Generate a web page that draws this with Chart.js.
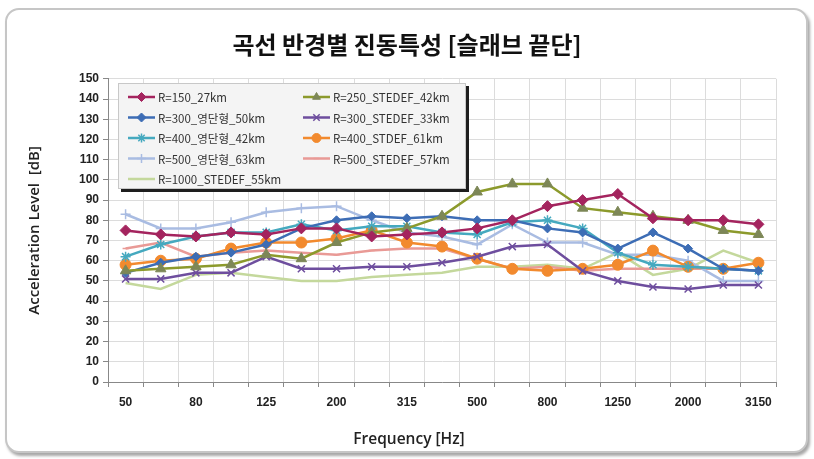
<!DOCTYPE html>
<html>
<head>
<meta charset="utf-8">
<script src="https://cdn.jsdelivr.net/npm/chart.js@4/dist/chart.umd.min.js"></script>
<style>
html, body { margin: 0; padding: 0; background: #fff; }
#wrap { position: relative; width: 814px; height: 459px; }
#card { position: absolute; left: 5px; top: 8px; width: 799px; height: 441px; border: 2px solid #c6c6c6; border-radius: 14px; box-shadow: 2px 3px 3px rgba(0,0,0,0.35); background: #fff; }
canvas { position: absolute; left: 0; top: 0; }
</style>
</head>
<body>
<div id="wrap">
  <div id="card"></div>
  <canvas id="chart" width="814" height="459"></canvas>
</div>
<script>
// 1/3 octave bands
const frequencies = ['50', '63', '80', '100', '125', '160', '200', '250', '315', '400', '500', '630', '800', '1000', '1250', '1600', '2000', '2500', '3150'];

const r150_27 = [75, 73, 72, 74, 73, 76, 76, 72, 73, 74, 76, 80, 87, 90, 93, 81, 80, 80, 78];
const r250_stedef42 = [55, 56, 57, 58, 63, 61, 69, 74, 76, 82, 94, 98, 98, 86, 84, 82, 80, 75, 73];
const r300_young50 = [54, 59, 62, 64, 68, 76, 80, 82, 81, 82, 80, 80, 76, 74, 66, 74, 66, 56, 55];
const r300_stedef33 = [51, 51, 54, 54, 62, 56, 56, 57, 57, 59, 62, 67, 68, 55, 50, 47, 46, 48, 48];
const r400_young42 = [62, 68, 72, 74, 74, 78, 75, 77, 77, 74, 73, 79, 80, 76, 64, 58, 57, 56, 55];
const r400_stdef61 = [58, 60, 61, 66, 69, 69, 71, 75, 69, 67, 61, 56, 55, 56, 58, 65, 57, 56, 59];
const r500_young63 = [83, 76, 76, 79, 84, 86, 87, 80, 74, 72, 68, 78, 69, 69, 63, 63, 60, 50, 50];
const r500_stedef57 = [66, 69, 62, 64, 65, 64, 63, 65, 66, 66, 61, 56, 57, 55, 56, 56, 56, 56, 55];
const r1000_stedef55 = [49, 46, 53, 54, 52, 50, 50, 52, 53, 54, 57, 57, 58, 56, 64, 53, 56, 65, 59];

const xTitle = 'Frequency [Hz]';

function serie(label, data, color, pointColor, style, radius) {
    return {
        label: label,
        data: data,
        borderColor: color,
        backgroundColor: pointColor,
        pointBackgroundColor: pointColor,
        pointBorderColor: pointColor,
        pointStyle: style,
        pointRadius: radius,
        pointBorderWidth: style === 'crossRot' || style === 'cross' || style === 'star' || style === 'line' ? 1.5 : 1,
        borderWidth: 2.5,
        tension: 0,
        fill: false
    };
}

const datasets = [
    serie('R=150_27km', r150_27, '#A4245E', '#A4245E', 'rectRot', 5.5),
    serie('R=250_STEDEF_42km', r250_stedef42, '#8C9A2C', '#7D8757', 'triangle', 6),
    serie('R=300_영단형_50km', r300_young50, '#3D6DB5', '#3D6DB5', 'rectRot', 4.5),
    serie('R=300_STEDEF_33km', r300_stedef33, '#6E4E9E', '#6E4E9E', 'crossRot', 5),
    serie('R=400_영단형_42km', r400_young42, '#45A9BF', '#45A9BF', 'star', 5),
    serie('R=400_STDEF_61km', r400_stdef61, '#F28A2E', '#F28A2E', 'circle', 5.5),
    serie('R=500_영단형_63km', r500_young63, '#A9BCE2', '#A9BCE2', 'cross', 5),
    serie('R=500_STEDEF_57km', r500_stedef57, '#E99A96', '#E99A96', 'line', 3),
    serie('R=1000_STEDEF_55km', r1000_stedef55, '#C4D89C', '#C4D89C', 'circle', 0)
];

// legend drawn inside the plot, two columns like the original, plus the x title
const boxLegend = {
    id: 'boxLegend',
    afterDraw(chart) {
        const ctx = chart.ctx;
        const x0 = 118, y0 = 83, w = 348, h = 106;
        ctx.save();
        ctx.fillStyle = '#1e1e1e';
        ctx.fillRect(x0 + 3, y0 + 3, w, h);
        ctx.fillStyle = '#f4f4f4';
        ctx.fillRect(x0, y0, w, h);
        ctx.strokeStyle = '#c8c8c8';
        ctx.lineWidth = 1;
        ctx.strokeRect(x0 + 0.5, y0 + 0.5, w - 1, h - 1);

        ctx.font = '11.5px "Noto Sans CJK KR", "Noto Sans", sans-serif';
        ctx.textBaseline = 'middle';
        ctx.textAlign = 'left';
        chart.data.datasets.forEach((ds, i) => {
            const col = i % 2;
            const row = Math.floor(i / 2);
            const y = 97 + row * 20.5;
            const lx = col === 0 ? 128 : 303;
            ctx.strokeStyle = ds.borderColor;
            ctx.lineWidth = 2.5;
            ctx.beginPath();
            ctx.moveTo(lx, y);
            ctx.lineTo(lx + 27, y);
            ctx.stroke();
            if (ds.pointRadius > 0) {
                ctx.fillStyle = ds.pointBackgroundColor;
                ctx.strokeStyle = ds.pointBorderColor;
                ctx.lineWidth = ds.pointBorderWidth;
                Chart.helpers.drawPoint(ctx, {
                    pointStyle: ds.pointStyle,
                    radius: Math.min(ds.pointRadius, 4.5),
                    borderWidth: ds.pointBorderWidth,
                    rotation: 0
                }, lx + 13.5, y);
            }
            ctx.fillStyle = '#333';
            ctx.fillText(ds.label, lx + 30, y + 1);
        });

        // x axis title, centred on the whole card like the original
        ctx.font = '600 15.5px "Open Sans", sans-serif';
        ctx.fillStyle = '#222';
        ctx.textAlign = 'center';
        ctx.fillText(xTitle, 409, 440);
        ctx.restore();
    }
};

const ctx = document.getElementById('chart').getContext('2d');
const chart = new Chart(ctx, {
    type: 'line',
    data: {
        labels: frequencies,
        datasets: datasets
    },
    options: {
        responsive: false,
        animation: false,
        layout: { padding: 0 },
        plugins: {
            legend: { display: false },
            tooltip: { enabled: false },
            title: {
                display: true,
                text: '곡선 반경별 진동특성 [슬래브 끝단]',
                color: '#111',
                font: { family: '"Noto Sans CJK KR", sans-serif', size: 24, weight: 'bold' },
                padding: { top: 30, bottom: 20 }
            }
        },
        scales: {
            x: {
                offset: true,
                grid: { offset: true, color: '#dcdcdc', tickColor: '#888', tickLength: 5 },
                border: { color: '#888' },
                ticks: {
                    autoSkip: false,
                    maxRotation: 0,
                    color: '#222',
                    font: { family: '"Liberation Sans", sans-serif', size: 12, weight: 'bold' },
                    padding: 8,
                    callback: function (val, index) {
                        return index % 2 === 0 ? this.getLabelForValue(val) : '';
                    }
                },
                afterFit: (scale) => { scale.height = 77; }
            },
            y: {
                min: 0,
                max: 150,
                ticks: {
                    stepSize: 10,
                    color: '#222',
                    font: { family: '"Liberation Sans", sans-serif', size: 12, weight: 'bold' },
                    padding: 4
                },
                grid: { color: '#dcdcdc', tickColor: '#888', tickLength: 5 },
                border: { color: '#888' },
                title: {
                    display: true,
                    text: 'Acceleration Level  [dB]',
                    color: '#222',
                    font: { family: '"Open Sans", sans-serif', size: 15, weight: '600' },
                    padding: { top: 26, bottom: 4 }
                },
                afterFit: (scale) => { scale.width = 108; }
            },
            // empty right axis keeps the plot's right edge where the original has it
            yRight: {
                position: 'right',
                display: true,
                grid: { display: false, drawTicks: false },
                border: { display: false },
                ticks: { display: false },
                afterFit: (scale) => { scale.width = 38; }
            }
        }
    },
    plugins: [boxLegend]
});
</script>
</body>
</html>
